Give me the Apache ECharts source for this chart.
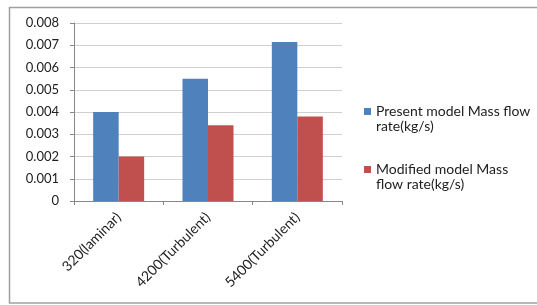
<!DOCTYPE html>
<html>
<head>
<meta charset="utf-8">
<script src="https://cdn.jsdelivr.net/npm/echarts@6/dist/echarts.min.js"></script>
<style>
  html, body { margin: 0; padding: 0; background: #fff; }
  #chart { width: 537px; height: 305px; }
</style>
</head>
<body>
<div id="chart"></div>
<script>
var categories = ['320(laminar)', '4200(Turbulent)', '5400(Turbulent)'];
var presentModel = [0.004, 0.0055, 0.00715];
var modifiedModel = [0.002, 0.0034, 0.0038];
var seriesNames = ['Present model Mass flow rate(kg/s)', 'Modified model Mass flow rate(kg/s)'];
// blank first line so the icon sits beside the first text line
var legendLines = {
    'Present model Mass flow rate(kg/s)': ' \nPresent model Mass flow\nrate(kg/s)',
    'Modified model Mass flow rate(kg/s)': ' \nModified model Mass\nflow rate(kg/s)'
};

var chart = echarts.init(document.getElementById('chart'));

var option = {
    backgroundColor: '#fff',
    animation: false,
    textStyle: { fontFamily: 'Lato, sans-serif' },
    graphic: [{
        type: 'rect',
        shape: { x: 9.5, y: 7.5, width: 560, height: 295.5 },
        style: { fill: 'none', stroke: '#a0a0a0', lineWidth: 1.5 },
        silent: true
    }],
    grid: { left: 74, right: 195, top: 23, bottom: 104 },
    legend: {
        orient: 'vertical',
        left: 364,
        top: 89,
        padding: 0,
        itemGap: 13,
        itemWidth: 7,
        itemHeight: 7,
        icon: 'rect',
        data: seriesNames,
        formatter: function (name) { return legendLines[name]; },
        textStyle: { fontSize: 14, color: '#222', lineHeight: 15 }
    },
    xAxis: {
        type: 'category',
        data: categories,
        axisLine: { lineStyle: { color: '#888' } },
        axisTick: { show: true, length: 4, lineStyle: { color: '#888' } },
        axisLabel: { rotate: 45, fontSize: 14, color: '#222', margin: 14, interval: 0 }
    },
    yAxis: {
        type: 'value',
        min: 0,
        max: 0.008,
        interval: 0.001,
        axisLine: { show: true, lineStyle: { color: '#888' } },
        axisTick: { show: true, length: 4, lineStyle: { color: '#888' } },
        splitLine: { lineStyle: { color: '#d0d0d0' } },
        axisLabel: {
            fontSize: 13, color: '#222', margin: 15,
            formatter: function (v) { return v === 0 ? '0' : v.toFixed(3); }
        }
    },
    series: [
        {
            name: seriesNames[0],
            type: 'bar',
            data: presentModel,
            barWidth: 25.5,
            barGap: '0%',
            itemStyle: { color: '#4F81BD' }
        },
        {
            name: seriesNames[1],
            type: 'bar',
            data: modifiedModel,
            barWidth: 25.5,
            itemStyle: { color: '#C0504D' }
        }
    ]
};

chart.setOption(option);
</script>
</body>
</html>
